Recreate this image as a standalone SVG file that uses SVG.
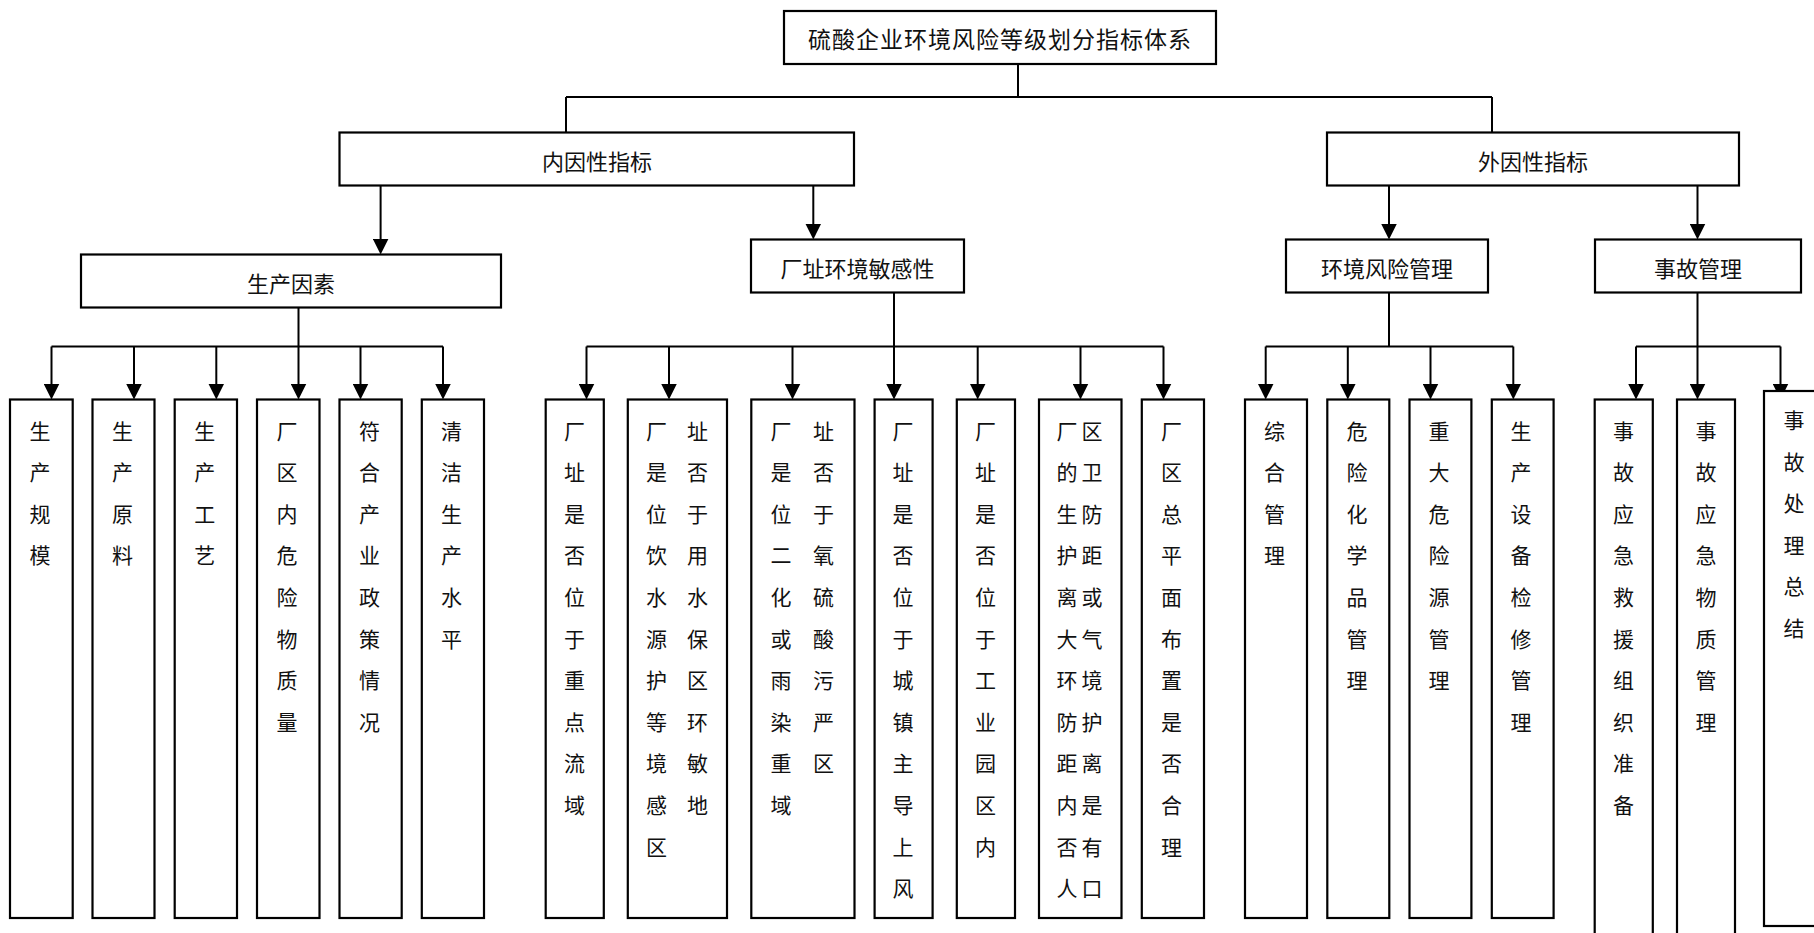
<svg xmlns="http://www.w3.org/2000/svg" width="1814" height="933" viewBox="0 0 1814 933">
<defs>
<style>
.box{fill:#fff;stroke:#000;stroke-width:2.2}
.ln{fill:none;stroke:#000;stroke-width:2}
.ar{fill:none;stroke:#000;stroke-width:2;marker-end:url(#ah)}
.hd{font-family:"Noto Sans CJK SC","Noto Sans CJK TC",sans-serif;font-size:22px;text-anchor:middle;fill:#111}
.tt{font-family:"Noto Sans CJK SC","Noto Sans CJK TC",sans-serif;font-size:23px;letter-spacing:1px;text-anchor:middle;fill:#111}
.lf{font-family:"Noto Sans CJK SC","Noto Sans CJK TC",sans-serif;font-size:21px;text-anchor:middle;fill:#111}
</style>
<marker id="ah" viewBox="0 0 16 16" refX="8" refY="8" markerWidth="16" markerHeight="16" markerUnits="userSpaceOnUse" orient="auto">
<path d="M0,0 L16,8 L0,16 z" fill="#000"/>
</marker>
</defs>
<rect width="1814" height="933" fill="#fff"/>
<g id="connectors">
<path class="ln" d="M1018,64 V97 M566,97 H1492 M566,97 V132.5 M1492,97 V132.5"/>
<path class="ar" d="M380.6,185.5 V246.5"/>
<path class="ar" d="M813.3,185.5 V231.5"/>
<path class="ar" d="M1389,185.5 V231.5"/>
<path class="ar" d="M1697.5,185.5 V231.5"/>
<path class="ln" d="M298.5,307.5 V346.5 M51.5,346.5 H443"/>
<path class="ar" d="M51.5,346.5 V391.5"/>
<path class="ar" d="M134,346.5 V391.5"/>
<path class="ar" d="M216.3,346.5 V391.5"/>
<path class="ar" d="M298.5,346.5 V391.5"/>
<path class="ar" d="M360.5,346.5 V391.5"/>
<path class="ar" d="M443,346.5 V391.5"/>
<path class="ln" d="M894,292.5 V346.5 M586.5,346.5 H1163.5"/>
<path class="ar" d="M586.5,346.5 V391.5"/>
<path class="ar" d="M669,346.5 V391.5"/>
<path class="ar" d="M792.5,346.5 V391.5"/>
<path class="ar" d="M894,346.5 V391.5"/>
<path class="ar" d="M977.7,346.5 V391.5"/>
<path class="ar" d="M1080.5,346.5 V391.5"/>
<path class="ar" d="M1163.5,346.5 V391.5"/>
<path class="ln" d="M1389,292.5 V346.5 M1265.7,346.5 H1513.3"/>
<path class="ar" d="M1265.7,346.5 V391.5"/>
<path class="ar" d="M1347.8,346.5 V391.5"/>
<path class="ar" d="M1430.5,346.5 V391.5"/>
<path class="ar" d="M1513.3,346.5 V391.5"/>
<path class="ln" d="M1697.5,292.5 V346.5 M1636,346.5 H1780.5"/>
<path class="ar" d="M1636,346.5 V391.5"/>
<path class="ar" d="M1697.5,346.5 V391.5"/>
<path class="ar" d="M1780.5,346.5 V391.5"/>
</g>
<g id="root"><rect class="box" x="784" y="11" width="432" height="53"/><text class="tt" x="1000" y="48">硫酸企业环境风险等级划分指标体系</text></g>
<g id="inner"><rect class="box" x="339.5" y="132.5" width="514.5" height="53"/><text class="hd" x="597" y="170">内因性指标</text></g>
<g id="outer"><rect class="box" x="1327" y="132.5" width="412" height="53"/><text class="hd" x="1533" y="170">外因性指标</text></g>
<g id="prod"><rect class="box" x="81" y="254.5" width="420" height="53"/><text class="hd" x="291" y="292">生产因素</text></g>
<g id="site"><rect class="box" x="751" y="239.5" width="213" height="53"/><text class="hd" x="857.5" y="277">厂址环境敏感性</text></g>
<g id="envmgmt"><rect class="box" x="1286" y="239.5" width="202" height="53"/><text class="hd" x="1387" y="277">环境风险管理</text></g>
<g id="accmgmt"><rect class="box" x="1595" y="239.5" width="206" height="53"/><text class="hd" x="1698" y="277">事故管理</text></g>

<g id="p1"><rect class="box" x="10" y="399.5" width="62.7" height="518.5"/><text class="lf"><tspan x="40" y="438.5">生</tspan><tspan x="40" dy="41.6">产</tspan><tspan x="40" dy="41.6">规</tspan><tspan x="40" dy="41.6">模</tspan></text></g>
<g id="p2"><rect class="box" x="92.5" y="399.5" width="62" height="518.5"/><text class="lf"><tspan x="122.5" y="438.5">生</tspan><tspan x="122.5" dy="41.6">产</tspan><tspan x="122.5" dy="41.6">原</tspan><tspan x="122.5" dy="41.6">料</tspan></text></g>
<g id="p3"><rect class="box" x="174.7" y="399.5" width="62.3" height="518.5"/><text class="lf"><tspan x="204.8" y="438.5">生</tspan><tspan x="204.8" dy="41.6">产</tspan><tspan x="204.8" dy="41.6">工</tspan><tspan x="204.8" dy="41.6">艺</tspan></text></g>
<g id="p4"><rect class="box" x="257" y="399.5" width="62.5" height="518.5"/><text class="lf"><tspan x="287" y="438.5">厂</tspan><tspan x="287" dy="41.6">区</tspan><tspan x="287" dy="41.6">内</tspan><tspan x="287" dy="41.6">危</tspan><tspan x="287" dy="41.6">险</tspan><tspan x="287" dy="41.6">物</tspan><tspan x="287" dy="41.6">质</tspan><tspan x="287" dy="41.6">量</tspan></text></g>
<g id="p5"><rect class="box" x="339.5" y="399.5" width="62.2" height="518.5"/><text class="lf"><tspan x="369.5" y="438.5">符</tspan><tspan x="369.5" dy="41.6">合</tspan><tspan x="369.5" dy="41.6">产</tspan><tspan x="369.5" dy="41.6">业</tspan><tspan x="369.5" dy="41.6">政</tspan><tspan x="369.5" dy="41.6">策</tspan><tspan x="369.5" dy="41.6">情</tspan><tspan x="369.5" dy="41.6">况</tspan></text></g>
<g id="p6"><rect class="box" x="421.8" y="399.5" width="62.2" height="518.5"/><text class="lf"><tspan x="451.5" y="438.5">清</tspan><tspan x="451.5" dy="41.6">洁</tspan><tspan x="451.5" dy="41.6">生</tspan><tspan x="451.5" dy="41.6">产</tspan><tspan x="451.5" dy="41.6">水</tspan><tspan x="451.5" dy="41.6">平</tspan></text></g>

<g id="sa"><rect class="box" x="545.7" y="399.5" width="58.1" height="518.5"/><text class="lf"><tspan x="574.6" y="438.5">厂</tspan><tspan x="574.6" dy="41.6">址</tspan><tspan x="574.6" dy="41.6">是</tspan><tspan x="574.6" dy="41.6">否</tspan><tspan x="574.6" dy="41.6">位</tspan><tspan x="574.6" dy="41.6">于</tspan><tspan x="574.6" dy="41.6">重</tspan><tspan x="574.6" dy="41.6">点</tspan><tspan x="574.6" dy="41.6">流</tspan><tspan x="574.6" dy="41.6">域</tspan></text></g>
<g id="sb"><rect class="box" x="627.8" y="399.5" width="99.2" height="518.5"/><text class="lf"><tspan x="656.5" y="438.5">厂</tspan><tspan x="697.5" y="438.5">址</tspan><tspan x="656.5" y="480.1">是</tspan><tspan x="697.5" y="480.1">否</tspan><tspan x="656.5" y="521.7">位</tspan><tspan x="697.5" y="521.7">于</tspan><tspan x="656.5" y="563.3">饮</tspan><tspan x="697.5" y="563.3">用</tspan><tspan x="656.5" y="604.9">水</tspan><tspan x="697.5" y="604.9">水</tspan><tspan x="656.5" y="646.5">源</tspan><tspan x="697.5" y="646.5">保</tspan><tspan x="656.5" y="688.1">护</tspan><tspan x="697.5" y="688.1">区</tspan><tspan x="656.5" y="729.7">等</tspan><tspan x="697.5" y="729.7">环</tspan><tspan x="656.5" y="771.3">境</tspan><tspan x="697.5" y="771.3">敏</tspan><tspan x="656.5" y="812.9">感</tspan><tspan x="697.5" y="812.9">地</tspan><tspan x="656.5" y="854.5">区</tspan></text></g>
<g id="sc"><rect class="box" x="751.3" y="399.5" width="103.2" height="518.5"/><text class="lf"><tspan x="781" y="438.5">厂</tspan><tspan x="823.5" y="438.5">址</tspan><tspan x="781" y="480.1">是</tspan><tspan x="823.5" y="480.1">否</tspan><tspan x="781" y="521.7">位</tspan><tspan x="823.5" y="521.7">于</tspan><tspan x="781" y="563.3">二</tspan><tspan x="823.5" y="563.3">氧</tspan><tspan x="781" y="604.9">化</tspan><tspan x="823.5" y="604.9">硫</tspan><tspan x="781" y="646.5">或</tspan><tspan x="823.5" y="646.5">酸</tspan><tspan x="781" y="688.1">雨</tspan><tspan x="823.5" y="688.1">污</tspan><tspan x="781" y="729.7">染</tspan><tspan x="823.5" y="729.7">严</tspan><tspan x="781" y="771.3">重</tspan><tspan x="823.5" y="771.3">区</tspan><tspan x="781" y="812.9">域</tspan></text></g>
<g id="sd"><rect class="box" x="874.6" y="399.5" width="58" height="518.5"/><text class="lf"><tspan x="903" y="438.5">厂</tspan><tspan x="903" dy="41.6">址</tspan><tspan x="903" dy="41.6">是</tspan><tspan x="903" dy="41.6">否</tspan><tspan x="903" dy="41.6">位</tspan><tspan x="903" dy="41.6">于</tspan><tspan x="903" dy="41.6">城</tspan><tspan x="903" dy="41.6">镇</tspan><tspan x="903" dy="41.6">主</tspan><tspan x="903" dy="41.6">导</tspan><tspan x="903" dy="41.6">上</tspan><tspan x="903" dy="41.6">风</tspan></text></g>
<g id="se"><rect class="box" x="956.8" y="399.5" width="58.2" height="518.5"/><text class="lf"><tspan x="985.5" y="438.5">厂</tspan><tspan x="985.5" dy="41.6">址</tspan><tspan x="985.5" dy="41.6">是</tspan><tspan x="985.5" dy="41.6">否</tspan><tspan x="985.5" dy="41.6">位</tspan><tspan x="985.5" dy="41.6">于</tspan><tspan x="985.5" dy="41.6">工</tspan><tspan x="985.5" dy="41.6">业</tspan><tspan x="985.5" dy="41.6">园</tspan><tspan x="985.5" dy="41.6">区</tspan><tspan x="985.5" dy="41.6">内</tspan></text></g>
<g id="sf"><rect class="box" x="1039" y="399.5" width="82.5" height="518.5"/><text class="lf"><tspan x="1067" y="438.5">厂</tspan><tspan x="1092" y="438.5">区</tspan><tspan x="1067" y="480.1">的</tspan><tspan x="1092" y="480.1">卫</tspan><tspan x="1067" y="521.7">生</tspan><tspan x="1092" y="521.7">防</tspan><tspan x="1067" y="563.3">护</tspan><tspan x="1092" y="563.3">距</tspan><tspan x="1067" y="604.9">离</tspan><tspan x="1092" y="604.9">或</tspan><tspan x="1067" y="646.5">大</tspan><tspan x="1092" y="646.5">气</tspan><tspan x="1067" y="688.1">环</tspan><tspan x="1092" y="688.1">境</tspan><tspan x="1067" y="729.7">防</tspan><tspan x="1092" y="729.7">护</tspan><tspan x="1067" y="771.3">距</tspan><tspan x="1092" y="771.3">离</tspan><tspan x="1067" y="812.9">内</tspan><tspan x="1092" y="812.9">是</tspan><tspan x="1067" y="854.5">否</tspan><tspan x="1092" y="854.5">有</tspan><tspan x="1067" y="896.1">人</tspan><tspan x="1092" y="896.1">口</tspan></text></g>
<g id="sg"><rect class="box" x="1141.8" y="399.5" width="62.2" height="518.5"/><text class="lf"><tspan x="1171.5" y="438.5">厂</tspan><tspan x="1171.5" dy="41.6">区</tspan><tspan x="1171.5" dy="41.6">总</tspan><tspan x="1171.5" dy="41.6">平</tspan><tspan x="1171.5" dy="41.6">面</tspan><tspan x="1171.5" dy="41.6">布</tspan><tspan x="1171.5" dy="41.6">置</tspan><tspan x="1171.5" dy="41.6">是</tspan><tspan x="1171.5" dy="41.6">否</tspan><tspan x="1171.5" dy="41.6">合</tspan><tspan x="1171.5" dy="41.6">理</tspan></text></g>

<g id="e1"><rect class="box" x="1245" y="399.5" width="62" height="518.5"/><text class="lf"><tspan x="1274.5" y="438.5">综</tspan><tspan x="1274.5" dy="41.6">合</tspan><tspan x="1274.5" dy="41.6">管</tspan><tspan x="1274.5" dy="41.6">理</tspan></text></g>
<g id="e2"><rect class="box" x="1327.3" y="399.5" width="62" height="518.5"/><text class="lf"><tspan x="1357" y="438.5">危</tspan><tspan x="1357" dy="41.6">险</tspan><tspan x="1357" dy="41.6">化</tspan><tspan x="1357" dy="41.6">学</tspan><tspan x="1357" dy="41.6">品</tspan><tspan x="1357" dy="41.6">管</tspan><tspan x="1357" dy="41.6">理</tspan></text></g>
<g id="e3"><rect class="box" x="1409.5" y="399.5" width="61.9" height="518.5"/><text class="lf"><tspan x="1439" y="438.5">重</tspan><tspan x="1439" dy="41.6">大</tspan><tspan x="1439" dy="41.6">危</tspan><tspan x="1439" dy="41.6">险</tspan><tspan x="1439" dy="41.6">源</tspan><tspan x="1439" dy="41.6">管</tspan><tspan x="1439" dy="41.6">理</tspan></text></g>
<g id="e4"><rect class="box" x="1491.8" y="399.5" width="61.8" height="518.5"/><text class="lf"><tspan x="1521" y="438.5">生</tspan><tspan x="1521" dy="41.6">产</tspan><tspan x="1521" dy="41.6">设</tspan><tspan x="1521" dy="41.6">备</tspan><tspan x="1521" dy="41.6">检</tspan><tspan x="1521" dy="41.6">修</tspan><tspan x="1521" dy="41.6">管</tspan><tspan x="1521" dy="41.6">理</tspan></text></g>

<g id="a1"><rect class="box" x="1594.7" y="399.5" width="58.1" height="560"/><text class="lf"><tspan x="1623.5" y="438.5">事</tspan><tspan x="1623.5" dy="41.6">故</tspan><tspan x="1623.5" dy="41.6">应</tspan><tspan x="1623.5" dy="41.6">急</tspan><tspan x="1623.5" dy="41.6">救</tspan><tspan x="1623.5" dy="41.6">援</tspan><tspan x="1623.5" dy="41.6">组</tspan><tspan x="1623.5" dy="41.6">织</tspan><tspan x="1623.5" dy="41.6">准</tspan><tspan x="1623.5" dy="41.6">备</tspan></text></g>
<g id="a2"><rect class="box" x="1677" y="399.5" width="58" height="560"/><text class="lf"><tspan x="1706" y="438.5">事</tspan><tspan x="1706" dy="41.6">故</tspan><tspan x="1706" dy="41.6">应</tspan><tspan x="1706" dy="41.6">急</tspan><tspan x="1706" dy="41.6">物</tspan><tspan x="1706" dy="41.6">质</tspan><tspan x="1706" dy="41.6">管</tspan><tspan x="1706" dy="41.6">理</tspan></text></g>
<g id="a3"><rect class="box" x="1764" y="391" width="66" height="535"/><text class="lf"><tspan x="1794" y="428">事</tspan><tspan x="1794" dy="41.6">故</tspan><tspan x="1794" dy="41.6">处</tspan><tspan x="1794" dy="41.6">理</tspan><tspan x="1794" dy="41.6">总</tspan><tspan x="1794" dy="41.6">结</tspan></text></g>
</svg>
